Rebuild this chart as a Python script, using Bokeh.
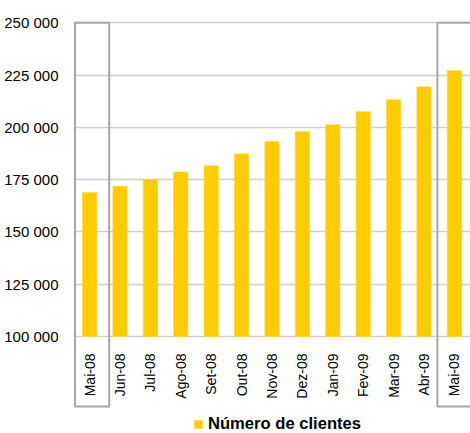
import math
from bokeh.plotting import figure
from bokeh.models import FactorRange, Range1d, FixedTicker, Legend, LegendItem
from bokeh.embed import file_html
from bokeh.resources import INLINE
from bokeh.core.properties import value

months = ["Mai-08", "Jun-08", "Jul-08", "Ago-08", "Set-08", "Out-08", "Nov-08",
          "Dez-08", "Jan-09", "Fev-09", "Mar-09", "Abr-09", "Mai-09"]
clientes = [168900, 171800, 175100, 178600, 181600, 187300, 193300,
            197900, 201300, 207500, 213200, 219400, 227100]
y_ticks = [100000, 125000, 150000, 175000, 200000, 225000, 250000]
highlighted = ["Mai-08", "Mai-09"]
series_name = "Número de clientes"

W, H = 470, 433
FRAME_LEFT, FRAME_TOP = 73, 19
Y_TOP_PX, Y_BASE_PX = 22.3, 336.0
ppu = (Y_BASE_PX - Y_TOP_PX) / (y_ticks[-1] - y_ticks[0])
y_end = y_ticks[-1] + (Y_TOP_PX - FRAME_TOP) / ppu
y_start = y_ticks[-1] - (H - Y_TOP_PX) / ppu

FONT = value("Liberation Sans")

p = figure(width=W, height=H,
           x_range=FactorRange(*months, range_padding=0.03, range_padding_units="absolute"),
           y_range=Range1d(y_start, y_end),
           x_axis_location=None,
           output_backend="svg", toolbar_location=None,
           min_border_left=FRAME_LEFT, min_border_right=0,
           min_border_top=FRAME_TOP, min_border_bottom=0)
p.outline_line_color = None
p.background_fill_color = "white"
p.border_fill_color = "white"

ticker = FixedTicker(ticks=y_ticks)
p.yaxis.ticker = ticker
p.ygrid.ticker = ticker
p.xgrid.visible = False
p.ygrid.grid_line_color = "#d0d0d0"
p.ygrid.grid_line_width = 1.3
p.yaxis.axis_line_color = None
p.yaxis.major_tick_line_color = None
p.yaxis.minor_tick_line_color = None
p.yaxis.major_tick_out = 0
p.yaxis.major_tick_in = 0
p.yaxis.minor_tick_out = 0
p.yaxis.minor_tick_in = 0
p.yaxis.major_label_standoff = 15
p.yaxis.major_label_text_font = "Liberation Sans"
p.yaxis.major_label_text_font_size = "15px"
p.yaxis.major_label_text_color = "#000000"
p.yaxis.major_label_overrides = {t: f"{t:,}".replace(",", " ") for t in y_ticks}

bars = p.vbar(x=months, top=clientes, bottom=y_ticks[0], width=0.47,
              fill_color="#FFCC00", line_color="#FFD633", line_width=0.6)

p.text(x=months, y=[y_ticks[0]] * len(months), text=months, angle=math.pi / 2,
       text_align="right", text_baseline="middle", y_offset=17,
       text_font=FONT, text_font_size="14px", text_color="#000000")

# highlight boxes around first and last months
box_bottom = y_ticks[0] - (406 - Y_BASE_PX) / ppu
i0 = months.index(highlighted[0])
i1 = months.index(highlighted[1])
p.quad(left=[i0 + 0.02, i1 - 0.06], right=[i0 + 1.144, i1 + 1.3],
       top=[y_ticks[-1]] * 2, bottom=[box_bottom] * 2,
       fill_color=None, line_color="#a6a6a6", line_width=2)

legend = Legend(items=[LegendItem(label=series_name, renderers=[bars])],
                location=(120, -1), orientation="horizontal",
                glyph_width=10, glyph_height=10, label_height=10,
                label_standoff=5, padding=0, margin=0, spacing=0,
                border_line_color=None, background_fill_alpha=0,
                label_text_font="Liberation Sans", label_text_font_size="16.6px",
                label_text_font_style="bold", label_text_color="#000000")
p.add_layout(legend)

open("out.html", "w").write(file_html(p, INLINE))
